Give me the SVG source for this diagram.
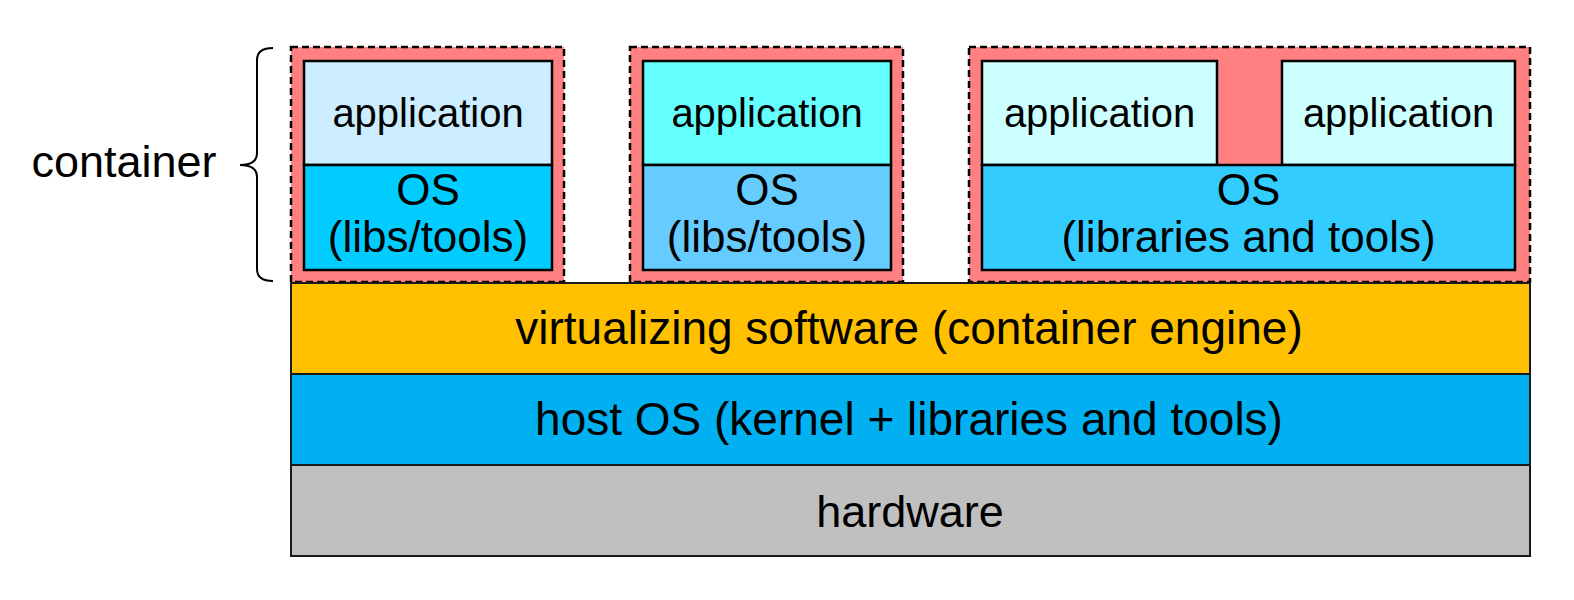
<svg xmlns="http://www.w3.org/2000/svg" width="1574" height="600" viewBox="0 0 1574 600">
  <style>
    text { font-family: "Liberation Sans", Arial, sans-serif; fill: #000; text-anchor: middle; }
    .t45 { font-size: 45px; }
    .t46 { font-size: 46px; }
    .t44 { font-size: 44px; }
    .t40 { font-size: 40px; }
    .cont { fill: #FF8080; stroke: #000; stroke-width: 2.5; stroke-dasharray: 7 4; }
    .box { stroke: #000; stroke-width: 2.5; }
    .layer { stroke: #1a1a1a; stroke-width: 2; }
    .brace { fill: none; stroke: #000; stroke-width: 2; }
  </style>
  <rect width="1574" height="600" fill="#fff"/>

  <g id="label-container">
    <text class="t45" x="124" y="177">container</text>
  </g>
  <g id="connectors">
    <path class="brace" d="M273,48 Q257,48 257,60 L257,153 Q257,165 240,165 Q257,165 257,177 L257,269 Q257,281 273,281"/>
  </g>

  <g id="container1">
    <rect class="cont" x="291" y="47" width="273" height="235"/>
    <rect class="box" x="304" y="61" width="248" height="104" fill="#CCECFF"/>
    <rect class="box" x="304" y="165" width="248" height="105" fill="#00CCFF"/>
    <text class="t40" x="428" y="127">application</text>
    <text class="t44" x="428" y="205">OS</text>
    <text class="t44" x="428" y="252">(libs/tools)</text>
  </g>

  <g id="container2">
    <rect class="cont" x="630" y="47" width="273" height="235"/>
    <rect class="box" x="643" y="61" width="248" height="104" fill="#66FFFF"/>
    <rect class="box" x="643" y="165" width="248" height="105" fill="#66CCFF"/>
    <text class="t40" x="767" y="127">application</text>
    <text class="t44" x="767" y="205">OS</text>
    <text class="t44" x="767" y="252">(libs/tools)</text>
  </g>

  <g id="container3">
    <rect class="cont" x="969" y="47" width="561" height="235"/>
    <rect class="box" x="982" y="61" width="235" height="104" fill="#CCFFFF"/>
    <rect class="box" x="1282" y="61" width="233" height="104" fill="#CCFFFF"/>
    <rect class="box" x="982" y="165" width="533" height="105" fill="#33CCFF"/>
    <text class="t40" x="1099.5" y="127">application</text>
    <text class="t40" x="1398.5" y="127">application</text>
    <text class="t44" x="1248.5" y="205">OS</text>
    <text class="t44" x="1248.5" y="252">(libraries and tools)</text>
  </g>

  <g id="virtualizing">
    <rect class="layer" x="291" y="283" width="1239" height="91" fill="#FFC000"/>
    <text class="t46" x="909" y="344">virtualizing software (container engine)</text>
  </g>
  <g id="hostos">
    <rect class="layer" x="291" y="374" width="1239" height="91" fill="#00B0F0"/>
    <text class="t46" x="909" y="435">host OS (kernel + libraries and tools)</text>
  </g>
  <g id="hardware">
    <rect class="layer" x="291" y="465" width="1239" height="91" fill="#C0C0C0"/>
    <text class="t45" x="910" y="527">hardware</text>
  </g>
</svg>
